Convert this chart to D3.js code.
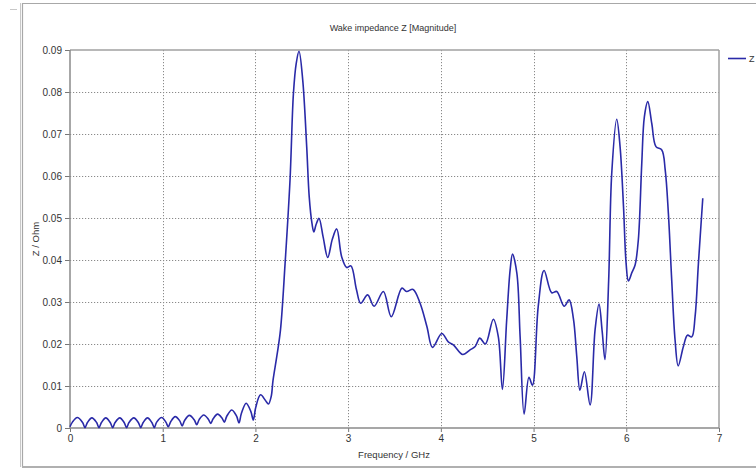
<!DOCTYPE html>
<html>
<head>
<meta charset="utf-8">
<script src="https://cdn.jsdelivr.net/npm/d3@7"></script>
<style>
  html, body { margin: 0; padding: 0; background: #fff; }
  svg { display: block; }
  text { font-family: "Liberation Sans", Arial, sans-serif; fill: #333; }
</style>
</head>
<body>
<svg id="chart" width="756" height="469"></svg>
<script>
// Wake impedance magnitude vs. frequency
const chartTitle = "Wake impedance Z [Magnitude]";
const xLabel = "Frequency / GHz";
const yLabel = "Z / Ohm";
const legendLabel = "Z";

const xTicks = [0, 1, 2, 3, 4, 5, 6, 7];
const yTicks = [0, 0.01, 0.02, 0.03, 0.04, 0.05, 0.06, 0.07, 0.08, 0.09];

// frequency samples (GHz)
const freqGHz = [
  0.000, 0.026, 0.079, 0.136, 0.162, 0.188, 0.236, 0.287, 0.313, 0.339,
  0.386, 0.434, 0.460, 0.486, 0.537, 0.584, 0.610, 0.636, 0.688, 0.737,
  0.763, 0.789, 0.836, 0.883, 0.909, 0.935, 0.988, 1.034, 1.060, 1.086,
  1.135, 1.184, 1.210, 1.236, 1.288, 1.341, 1.367, 1.393, 1.442, 1.492,
  1.518, 1.544, 1.592, 1.639, 1.665, 1.691, 1.745, 1.797, 1.823, 1.849,
  1.900, 1.951, 1.977, 2.003, 2.055, 2.110, 2.140, 2.170, 2.190, 2.230,
  2.270, 2.320, 2.373, 2.410, 2.440, 2.470, 2.510, 2.553, 2.580, 2.610,
  2.630, 2.655, 2.686, 2.730, 2.780, 2.830, 2.877, 2.930, 2.985, 3.030,
  3.090, 3.135, 3.210, 3.280, 3.380, 3.465, 3.580, 3.630, 3.700, 3.776,
  3.850, 3.910, 4.010, 4.080, 4.135, 4.236, 4.315, 4.370, 4.420, 4.480,
  4.566, 4.620, 4.664, 4.710, 4.747, 4.773, 4.820, 4.855, 4.898, 4.950,
  4.988, 5.050, 5.113, 5.196, 5.250, 5.330, 5.383, 5.430, 5.466, 5.500,
  5.548, 5.610, 5.663, 5.706, 5.740, 5.770, 5.810, 5.843, 5.897, 5.933,
  5.970, 5.998, 6.023, 6.060, 6.095, 6.130, 6.167, 6.195, 6.232, 6.275,
  6.320, 6.383, 6.420, 6.454, 6.490, 6.526, 6.560, 6.616, 6.660, 6.706,
  6.742, 6.778, 6.825
];

// |Z| in Ohm at each frequency sample
const zOhm = [
  0.0003, 0.0014, 0.0025, 0.0013, 0.0001, 0.0013, 0.0024, 0.0013, 0.0001, 0.0013,
  0.0024, 0.0013, 0.0001, 0.0013, 0.0024, 0.0013, 0.0001, 0.0013, 0.0024, 0.0013,
  0.0001, 0.0013, 0.0024, 0.0013, 0.0001, 0.0014, 0.0025, 0.0014, 0.0003, 0.0015,
  0.0027, 0.0017, 0.0005, 0.0018, 0.0030, 0.0019, 0.0008, 0.0020, 0.0031, 0.0021,
  0.0011, 0.0022, 0.0033, 0.0024, 0.0014, 0.0028, 0.0043, 0.0028, 0.0012, 0.0035,
  0.0059, 0.0039, 0.0019, 0.0049, 0.0079, 0.0065, 0.0057, 0.0075, 0.0114, 0.0170,
  0.0233, 0.0392, 0.0590, 0.0797, 0.0868, 0.0897, 0.0829, 0.0670, 0.0551, 0.0487,
  0.0467, 0.0485, 0.0499, 0.0455, 0.0406, 0.0450, 0.0474, 0.0408, 0.0382, 0.0386,
  0.0329, 0.0297, 0.0317, 0.0290, 0.0325, 0.0265, 0.0333, 0.0325, 0.0330, 0.0297,
  0.0241, 0.0192, 0.0225, 0.0205, 0.0198, 0.0175, 0.0186, 0.0194, 0.0214, 0.0200,
  0.0259, 0.0217, 0.0092, 0.0257, 0.0376, 0.0414, 0.0368, 0.0217, 0.0033, 0.0121,
  0.0102, 0.0289, 0.0375, 0.0322, 0.0325, 0.0290, 0.0305, 0.0260, 0.0170, 0.0090,
  0.0134, 0.0055, 0.0233, 0.0295, 0.0230, 0.0163, 0.0352, 0.0606, 0.0735, 0.0670,
  0.0527, 0.0392, 0.0350, 0.0370, 0.0388, 0.0448, 0.0630, 0.0741, 0.0777, 0.0725,
  0.0670, 0.0662, 0.0614, 0.0511, 0.0352, 0.0210, 0.0148, 0.0194, 0.0221, 0.0217,
  0.0265, 0.0392, 0.0547
];

const W = 756, H = 469;
const plot = { left: 70, right: 719, top: 50, bottom: 428 };

const svg = d3.select("#chart");

// window frame
const frame = svg.append("g").attr("fill", "none");
frame.append("line").attr("x1", 20.5).attr("x2", 20.5).attr("y1", 3).attr("y2", 467)
  .attr("stroke", "#c8c8c8").attr("stroke-width", 1);
frame.append("line").attr("x1", 22.5).attr("x2", 22.5).attr("y1", 3).attr("y2", 467)
  .attr("stroke", "#a8a8a8").attr("stroke-width", 1.2);
frame.append("line").attr("x1", 22).attr("x2", W).attr("y1", 3.5).attr("y2", 3.5)
  .attr("stroke", "#a8a8a8").attr("stroke-width", 1.2);
frame.append("line").attr("x1", 22).attr("x2", W).attr("y1", 467).attr("y2", 467)
  .attr("stroke", "#b0b0b0").attr("stroke-width", 2);
frame.append("line").attr("x1", 10).attr("x2", 17).attr("y1", 9.5).attr("y2", 9.5)
  .attr("stroke", "#c8c8c8").attr("stroke-width", 1);

const x = d3.scaleLinear().domain([0, 7]).range([plot.left, plot.right]);
const y = d3.scaleLinear().domain([0, 0.09]).range([plot.bottom, plot.top]);

// grid
const grid = svg.append("g")
  .attr("stroke", "#8a8a8a").attr("stroke-width", 1).attr("stroke-dasharray", "1.2,1.8");
grid.selectAll("line.vx").data(xTicks.filter(t => t > 0 && t < 7)).join("line")
  .attr("x1", d => Math.round(x(d)) + 0.5).attr("x2", d => Math.round(x(d)) + 0.5)
  .attr("y1", plot.top).attr("y2", plot.bottom);
grid.selectAll("line.hy").data(yTicks.filter(t => t > 0 && t < 0.09)).join("line")
  .attr("x1", plot.left).attr("x2", plot.right)
  .attr("y1", d => Math.round(y(d)) + 0.5).attr("y2", d => Math.round(y(d)) + 0.5);

// axes
const xAxis = d3.axisBottom(x).tickValues(xTicks).tickSize(4).tickPadding(3)
  .tickFormat(d3.format("d"));
const yAxis = d3.axisLeft(y).tickValues(yTicks).tickSize(5).tickPadding(3)
  .tickFormat(d => d === 0 ? "0" : d3.format(".2f")(d));

const gx = svg.append("g").attr("transform", `translate(0,${plot.bottom})`).call(xAxis);
const gy = svg.append("g").attr("transform", `translate(${plot.left},0)`).call(yAxis);
[gx, gy].forEach(g => {
  g.select(".domain").remove();
  g.selectAll(".tick line").attr("stroke", "#777");
  g.selectAll(".tick text").attr("fill", "#333").style("font-size", "10px")
    .style("font-family", "'Liberation Sans', Arial, sans-serif");
});

// plot box
const box = svg.append("g").attr("fill", "none");
box.append("line").attr("x1", plot.left).attr("x2", plot.right)
  .attr("y1", plot.top).attr("y2", plot.top).attr("stroke", "#a0a0a0").attr("stroke-width", 1.5);
box.append("line").attr("x1", plot.right).attr("x2", plot.right)
  .attr("y1", plot.top).attr("y2", plot.bottom).attr("stroke", "#a0a0a0").attr("stroke-width", 1.5);
box.append("line").attr("x1", plot.left).attr("x2", plot.left)
  .attr("y1", plot.top).attr("y2", plot.bottom).attr("stroke", "#8a8a8a").attr("stroke-width", 1.5);
box.append("line").attr("x1", plot.left).attr("x2", plot.right)
  .attr("y1", plot.bottom).attr("y2", plot.bottom).attr("stroke", "#8a8a8a").attr("stroke-width", 1.5);

// curve
const pts = freqGHz.map((f, i) => [f, zOhm[i]]);
const line = d3.line().x(d => x(d[0])).y(d => y(d[1])).curve(d3.curveCatmullRom.alpha(0.5));
svg.append("path").datum(pts).attr("d", line)
  .attr("fill", "none").attr("stroke", "#2a2aa8").attr("stroke-width", 1.6)
  .attr("stroke-linejoin", "round");

// titles
svg.append("text").attr("x", 393).attr("y", 31).attr("text-anchor", "middle")
  .style("font-size", "9px").text(chartTitle);
svg.append("text").attr("x", 394).attr("y", 458).attr("text-anchor", "middle")
  .style("font-size", "9.5px").text(xLabel);
svg.append("text").attr("transform", "translate(39,239) rotate(-90)").attr("text-anchor", "middle")
  .style("font-size", "9.5px").text(yLabel);

// legend
svg.append("line").attr("x1", 728).attr("x2", 746).attr("y1", 58.5).attr("y2", 58.5)
  .attr("stroke", "#2a2aa8").attr("stroke-width", 1.6);
svg.append("text").attr("x", 749).attr("y", 62).style("font-size", "9px").text(legendLabel);
</script>
</body>
</html>
